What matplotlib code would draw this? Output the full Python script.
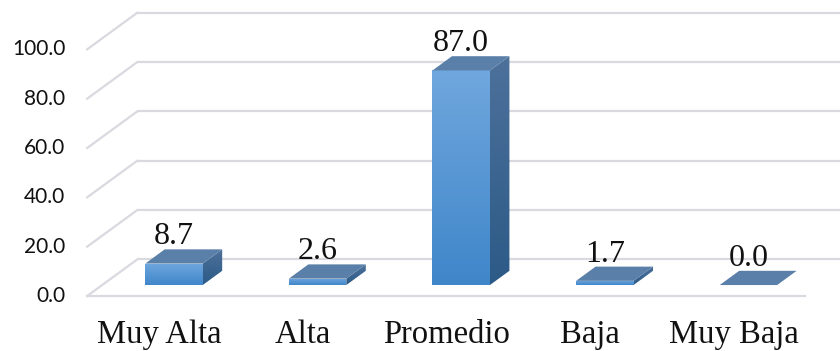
import numpy as np
import matplotlib
matplotlib.use("Agg")
import matplotlib.pyplot as plt
from matplotlib.patches import Polygon
from matplotlib.colors import LinearSegmentedColormap

# Data
categories = ["Muy Alta", "Alta", "Promedio", "Baja", "Muy Baja"]
values = [8.7, 2.6, 87.0, 1.7, 0.0]
value_labels = ["8.7", "2.6", "87.0", "1.7", "0.0"]
ticks = [0, 20, 40, 60, 80, 100]
tick_labels = ["0.0", "20.0", "40.0", "60.0", "80.0", "100.0"]

# Oblique projection: one unit of depth moves this far in data units
DEPTH_X = 0.348
DEPTH_Y = 14.8
BAR_FRONT = 0.30
BAR_BACK = 0.69
HALF_W = 0.20

GRID = "#d9d9e0"

fig = plt.figure(figsize=(8.4, 3.51), dpi=100)
ax = fig.add_axes([0, 0, 1, 1])
ax.set_xlim(-1.107, 4.742)
ax.set_ylim(-22.3, 120.0)
ax.axis("off")


def proj(x, y, d):
    return (x + d * DEPTH_X, y + d * DEPTH_Y)


# Walls: back-wall grid lines, left-side diagonals, floor front edge
x_left = -0.5
x_right = len(categories) - 0.5
for t in ticks:
    bx, by = proj(x_left, t, 1.0)
    ax.plot([bx, 6.0], [by, by], color=GRID, lw=1.6, zorder=1,
            solid_capstyle="butt")
    ax.plot([x_left, bx], [t, by], color=GRID, lw=1.6, zorder=1)
ax.plot([x_left, x_right], [0, 0], color=GRID, lw=1.6, zorder=1)

# Tick labels on the front plane
for t, lab in zip(ticks, tick_labels):
    ax.text(x_left - 0.153, t, lab, ha="right", va="center",
            fontsize=15, family="Lato", color="#111111", zorder=5)

front_cmap = LinearSegmentedColormap.from_list("front", ["#3f86c9", "#70a7de"])
side_cmap = LinearSegmentedColormap.from_list("side", ["#2c5a87", "#4d719b"])
TOP_COLOR = "#5a7fa8"

grad = np.linspace(0, 1, 256).reshape(-1, 1)

for i, (cat, v, vl) in enumerate(zip(categories, values, value_labels)):
    x0, x1 = i - HALF_W, i + HALF_W
    # front face
    if v > 0:
        fx0, fy0 = proj(x0, 0, BAR_FRONT)
        fx1, fy1 = proj(x1, v, BAR_FRONT)
        fpoly = Polygon([(fx0, fy0), (fx1, fy0), (fx1, fy1), (fx0, fy1)],
                        closed=True, facecolor="none", edgecolor="none",
                        transform=ax.transData)
        ax.add_patch(fpoly)
        im = ax.imshow(grad, cmap=front_cmap, origin="lower", aspect="auto",
                       extent=(fx0, fx1, fy0, fy1), zorder=3,
                       interpolation="bilinear")
        im.set_clip_path(fpoly)

        # right side face
        s = [proj(x1, 0, BAR_FRONT), proj(x1, 0, BAR_BACK),
             proj(x1, v, BAR_BACK), proj(x1, v, BAR_FRONT)]
        spoly = Polygon(s, closed=True, facecolor="none", edgecolor="none",
                        transform=ax.transData)
        ax.add_patch(spoly)
        xs = [p[0] for p in s]
        ys = [p[1] for p in s]
        im2 = ax.imshow(grad, cmap=side_cmap, origin="lower", aspect="auto",
                        extent=(min(xs), max(xs), min(ys), max(ys)), zorder=3,
                        interpolation="bilinear")
        im2.set_clip_path(spoly)

    # top face
    top = [proj(x0, v, BAR_FRONT), proj(x1, v, BAR_FRONT),
           proj(x1, v, BAR_BACK), proj(x0, v, BAR_BACK)]
    ax.add_patch(Polygon(top, closed=True, facecolor=TOP_COLOR,
                         edgecolor="none", zorder=4))

    # value label above the bar
    lx, _ = proj(i, 0, BAR_FRONT)
    ax.text(lx, v + BAR_BACK * DEPTH_Y + 2.0, vl, ha="center", va="baseline",
            fontsize=23, family="Liberation Serif", color="#111111", zorder=6)

    # category label on the front plane
    ax.text(i, -19.05, cat, ha="center", va="baseline", fontsize=23.5,
            family="Liberation Serif", color="#111111", zorder=6)

fig.savefig("out.png", dpi=100)
